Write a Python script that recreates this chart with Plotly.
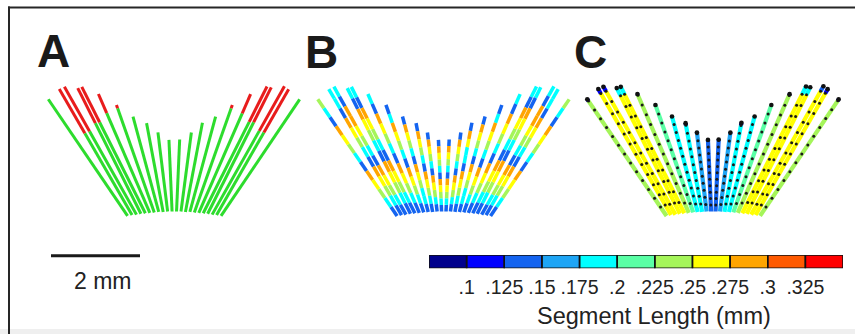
import numpy as np
import plotly.graph_objects as go

W, H = 855, 334
PX = 44.5  # screen pixels per mm (2 mm scale bar = 89 px)

# ------------------------------------------------------------------ data
# 22 fibres, left to right; angle from vertical (negative = leaning left)
fiber_angle_deg = [-34.2, -30.0, -29.4, -26.7, -26.7, -23.4, -19.4, -15.1, -10.6, -7.0, -2.5,
                   2.5, 7.5, 10.8, 15.1, 19.5, 23.6, 26.7, 26.7, 29.4, 29.8, 34.0]
fiber_length_mm = [3.17, 3.27, 3.30, 3.16, 3.18, 2.91, 2.56, 2.22, 2.03, 1.79, 1.61,
                   1.62, 1.79, 2.04, 2.22, 2.56, 2.91, 3.19, 3.18, 3.31, 3.26, 3.16]
fiber_base_x_mm = [-1.05, -0.95, -0.85, -0.75, -0.65, -0.55, -0.45, -0.35, -0.25, -0.15, -0.05,
                   0.05, 0.15, 0.25, 0.35, 0.45, 0.55, 0.65, 0.75, 0.85, 0.95, 1.05]
fiber_base_drop_mm = [0.10, 0.08, 0.07, 0.05, 0.04, 0.03, 0.02, 0.01, 0.01, 0.0, 0.0,
                      0.0, 0.0, 0.01, 0.01, 0.02, 0.03, 0.04, 0.05, 0.07, 0.08, 0.10]

# Panel A: length of the red (over-long) tip of each fibre
a_red_tip_mm = [0, 1.15, 1.15, 0.88, 0.89, 0.47, 0.08, 0, 0, 0, 0,
                0, 0, 0, 0, 0.08, 0.47, 0.89, 0.88, 1.15, 1.12, 0]

# Panel B: individual segment lengths, top -> bottom
_b, _c, _g, _y, _o = 0.14, 0.19, 0.235, 0.265, 0.29
b_segments_mm = [
    [_g, _c, _b, _o, _y, _g, _c, _b, _o, _y, _g, _c, _b],
    [_c, _c, _b, _o, _y, _g, _c, _b, _o, _y, _g, _c, _b],
    [_c, _b, _o, _o, _y, _g, _c, _b, _o, _y, _g, _c, _b],
    [_c, _b, _o, _y, _g, _c, _b, _o, _y, _g, _c, _b],
    [_c, _b, _o, _y, _g, _c, _b, _o, _y, _g, _c, _b],
    [_c, _b, _o, _y, _g, _c, _b, _o, _y, _g, _c, _b],
    [_b, _c, _o, _y, _g, _c, _b, _o, _y, _g, _c, _b],
    [_b, _o, _y, _g, _c, _b, _o, _y, _g, _c, _c, _b],
    [_b, _o, _y, _g, _c, _b, _o, _y, _g, _c, _b],
    [_b, _o, _y, _g, _c, _b, _o, _y, _g, _c, _b],
    [_b, _o, _y, _g, _c, _b, _o, _y, _g, _c, _b],
    [_b, _o, _y, _g, _c, _b, _o, _y, _g, _c, _b],
    [_b, _o, _y, _g, _c, _b, _o, _y, _g, _c, _b],
    [_b, _o, _y, _c, _c, _b, _o, _y, _g, _c, _b],
    [_b, _o, _y, _g, _c, _b, _o, _y, _g, _c, _c, _b],
    [_b, _c, _o, _y, _g, _c, _b, _o, _y, _g, _c, _b],
    [_c, _b, _o, _y, _g, _c, _b, _o, _y, _g, _c, _b],
    [_c, _b, _o, _y, _g, _c, _b, _o, _y, _g, _c, _b],
    [_c, _b, _o, _y, _g, _c, _b, _o, _y, _g, _c, _b],
    [_c, _b, _o, _o, _y, _g, _c, _b, _o, _y, _g, _c, _b],
    [_c, _c, _b, _o, _y, _g, _c, _b, _o, _y, _g, _c, _b],
    [_g, _c, _b, _o, _y, _g, _c, _b, _o, _y, _g, _c, _b],
]

# Panel C: mean segment length per fibre
c_segment_mm = [0.24, 0.263, 0.265, 0.27, 0.272, 0.24, 0.213, 0.185, 0.18, 0.16, 0.145,
                0.145, 0.16, 0.18, 0.185, 0.213, 0.24, 0.272, 0.272, 0.265, 0.263, 0.24]

colorbar_edges = [0.075, 0.1, 0.125, 0.15, 0.175, 0.2, 0.225, 0.25, 0.275, 0.3, 0.325, 0.35]
colorbar_colors = ['#00008c', '#0000ff', '#1464f0', '#1ea5f5', '#00ffff', '#5affa5',
                   '#a5f55a', '#ffff00', '#ffa500', '#ff5a00', '#ff0000']
colorbar_ticks = [0.1, 0.125, 0.15, 0.175, 0.2, 0.225, 0.25, 0.275, 0.3, 0.325]
colorbar_ticktext = ['.1', '.125', '.15', '.175', '.2', '.225', '.25', '.275', '.3', '.325']
colorbar_title = 'Segment Length (mm)'
scale_bar_mm = 2
scale_bar_label = '2 mm'
panel_labels = ['A', 'B', 'C']

A_GREEN, A_RED = '#2ddc2d', '#e81c1c'
FONT = 'Liberation Sans, Arial, sans-serif'

# ------------------------------------------------------------------ layout helpers
panel_origin = {'A': (174.3 / PX, 211.5 / PX),
                'B': (443.8 / PX, 211.5 / PX),
                'C': (713.3 / PX, 211.5 / PX)}


def seg_color(v):
    k = int(np.searchsorted(colorbar_edges, v, side='right') - 1)
    return colorbar_colors[min(max(k, 0), len(colorbar_colors) - 1)]


def fiber_point(panel, i, t):
    cx, cy = panel_origin[panel]
    a = np.radians(fiber_angle_deg[i])
    bx = cx + fiber_base_x_mm[i]
    by = cy + fiber_base_drop_mm[i]
    return bx + t * np.sin(a), by - t * np.cos(a)


def add_seg(store, color, panel, i, t0, t1):
    x0, y0 = fiber_point(panel, i, t0)
    x1, y1 = fiber_point(panel, i, t1)
    xs, ys = store.setdefault(color, ([], []))
    xs += [x0, x1, None]
    ys += [y0, y1, None]


fig = go.Figure()


def flush(store, width):
    for col, (xs, ys) in store.items():
        fig.add_trace(go.Scatter(x=xs, y=ys, mode='lines', line=dict(color=col, width=width),
                                 hoverinfo='skip', showlegend=False))


n_f = len(fiber_length_mm)

# Panel A
store = {}
for i in range(n_f):
    L = fiber_length_mm[i]
    r = a_red_tip_mm[i]
    add_seg(store, A_GREEN, 'A', i, 0, L - r)
    if r > 0:
        add_seg(store, A_RED, 'A', i, L - r, L)
flush(store, 3)

# Panel B
store = {}
for i in range(n_f):
    L = fiber_length_mm[i]
    segs = b_segments_mm[i]
    n = len(segs)
    for j, v in enumerate(segs):
        add_seg(store, seg_color(v), 'B', i, L - (j + 1) * L / n, L - j * L / n)
flush(store, 3.5)

# Panel C
store = {}
dot_x, dot_y, end_x, end_y = [], [], [], []
for i in range(n_f):
    L = fiber_length_mm[i]
    s = c_segment_mm[i]
    n = int(np.floor(L / s + 1e-6))
    add_seg(store, seg_color(s), 'C', i, 0, n * s)
    rem = L - n * s
    if rem > 0.005:
        add_seg(store, seg_color(rem), 'C', i, n * s, L)
    for k in range(1, n + 1):
        if L - k * s > 0.02:
            px_, py_ = fiber_point('C', i, k * s)
            dot_x.append(px_)
            dot_y.append(py_)
    px_, py_ = fiber_point('C', i, L)
    end_x.append(px_)
    end_y.append(py_)
flush(store, 4.2)
fig.add_trace(go.Scatter(x=dot_x, y=dot_y, mode='markers',
                         marker=dict(color='#1a1a1a', size=3, symbol='circle'),
                         hoverinfo='skip', showlegend=False))
fig.add_trace(go.Scatter(x=end_x, y=end_y, mode='markers',
                         marker=dict(color='#111111', size=4.6, symbol='circle'),
                         hoverinfo='skip', showlegend=False))

# Scale bar
sb_x0, sb_y = 51 / PX, 255.7 / PX
fig.add_trace(go.Scatter(x=[sb_x0, sb_x0 + scale_bar_mm], y=[sb_y, sb_y], mode='lines',
                         line=dict(color='#1a1a1a', width=3), hoverinfo='skip', showlegend=False))

# Colour bar
cb_centers = [(colorbar_edges[k] + colorbar_edges[k + 1]) / 2 for k in range(len(colorbar_colors))]
n_c = len(colorbar_colors)
cscale = []
for k, col in enumerate(colorbar_colors):
    cscale += [[k / n_c, col], [(k + 1) / n_c, col]]
fig.add_trace(go.Heatmap(x=cb_centers, y=[0.5], z=[cb_centers], colorscale=cscale,
                         zmin=colorbar_edges[0], zmax=colorbar_edges[-1], showscale=False,
                         hoverinfo='skip', xaxis='x2', yaxis='y2'))

shapes = []
for k in range(n_c):
    shapes.append(dict(type='rect', xref='x2', yref='y2', x0=colorbar_edges[k],
                       x1=colorbar_edges[k + 1], y0=0, y1=1,
                       line=dict(color='#111111', width=1.5)))
# frame
shapes.append(dict(type='rect', xref='paper', yref='paper', x0=0, x1=1, y0=0, y1=5 / H,
                   fillcolor='#efefef', line=dict(width=0), layer='below'))
shapes.append(dict(type='line', xref='paper', yref='paper', x0=8 / W, x1=1,
                   y0=1 - 7.5 / H, y1=1 - 7.5 / H, line=dict(color='#262626', width=2)))
shapes.append(dict(type='line', xref='paper', yref='paper', x0=9 / W, x1=9 / W,
                   y0=0, y1=1 - 6.5 / H, line=dict(color='#262626', width=2)))

annotations = []
for lab, (lx, ly) in zip(panel_labels, [(53.5, 50.5), (321.7, 52), (590, 52)]):
    annotations.append(dict(x=lx / PX, y=ly / PX, xref='x', yref='y', text='<b>%s</b>' % lab,
                            showarrow=False, xanchor='center', yanchor='middle',
                            font=dict(family=FONT, size=46, color='#1a1a1a')))
annotations.append(dict(x=102.8 / PX, y=281 / PX, xref='x', yref='y', text=scale_bar_label,
                        showarrow=False, xanchor='center', yanchor='middle',
                        font=dict(family=FONT, size=23, color='#222222')))
annotations.append(dict(x=653.5 / W, y=1 - 315.5 / H, xref='paper', yref='paper', text=colorbar_title,
                        showarrow=False, xanchor='center', yanchor='middle',
                        font=dict(family=FONT, size=23.5, color='#222222')))

fig.update_layout(
    width=W, height=H, margin=dict(l=0, r=0, t=0, b=0),
    paper_bgcolor='white', plot_bgcolor='rgba(0,0,0,0)', showlegend=False,
    xaxis=dict(domain=[0, 1], range=[0, W / PX], visible=False, fixedrange=True),
    yaxis=dict(domain=[0, 1], range=[H / PX, 0], visible=False, fixedrange=True),
    xaxis2=dict(domain=[429 / W, 843 / W], range=[colorbar_edges[0], colorbar_edges[-1]],
                anchor='y2', tickvals=colorbar_ticks, ticktext=colorbar_ticktext,
                ticks='', showgrid=False, zeroline=False, showline=False,
                ticklabelstandoff=5,
                tickfont=dict(family=FONT, size=19.5, color='#222222'), fixedrange=True),
    yaxis2=dict(domain=[1 - 268.3 / H, 1 - 255 / H], range=[0, 1], anchor='x2',
                visible=False, fixedrange=True),
    shapes=shapes, annotations=annotations,
)

fig.write_html('out.html')
